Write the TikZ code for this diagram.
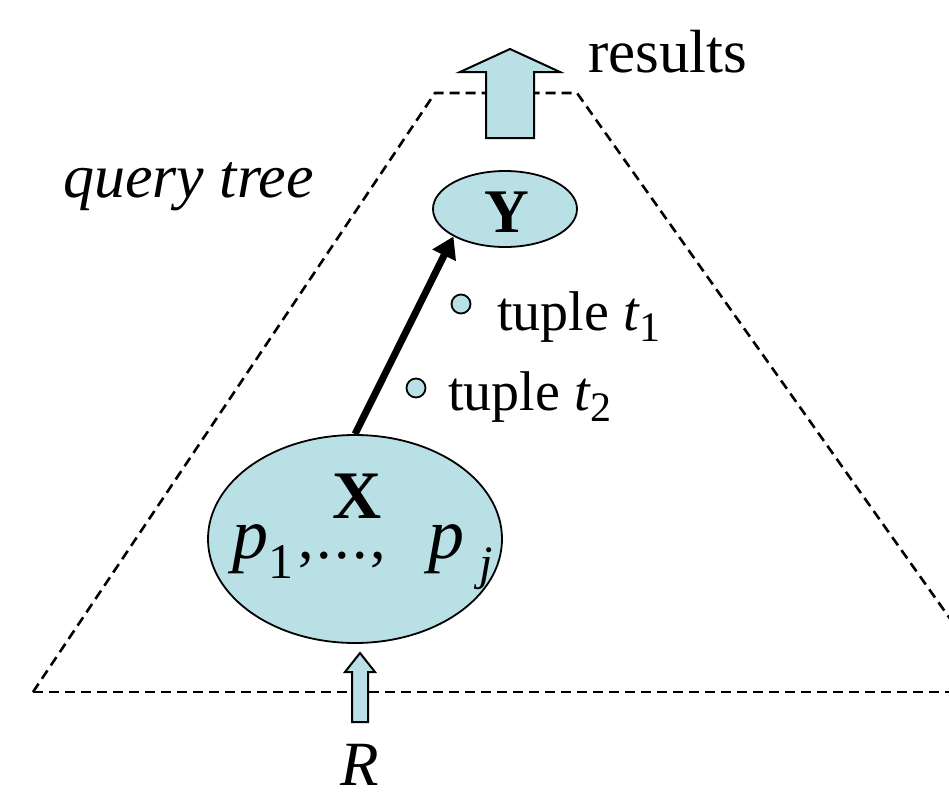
\documentclass[tikz,border=0pt]{standalone}
\usepackage{fontspec}
\setmainfont{Liberation Serif}
\usetikzlibrary{arrows.meta,shapes.geometric}
\definecolor{cyanfill}{RGB}{185,224,228}
\begin{document}
\begin{tikzpicture}[x=1pt,y=-1pt,
  bubble/.style={ellipse,draw=black,line width=1.8pt,fill=cyanfill,inner sep=0pt},
  blockarrow/.style={draw=black,line width=2pt,fill=cyanfill,line join=miter},
  dot/.style={circle,draw=black,line width=1.8pt,fill=cyanfill,inner sep=0pt,minimum size=19pt},
  lbl/.style={inner sep=0pt,anchor=base west},
  trap/.style={draw=black,line width=2.6pt,dash pattern=on 10pt off 6pt}]
\useasboundingbox (0,0) rectangle (949,792);
\begin{scope}
\clip (0,0) rectangle (949,792);
\draw[trap] (33,692) -- (435,93) -- (577,93) -- (1100,830);
\draw[trap] (33,692) -- (960,692);
\end{scope}
% top block arrow
\draw[blockarrow] (486,138) -- (486,72) -- (460,72) -- (510,49) -- (560,72) -- (534,72) -- (534,138) -- cycle;
% bottom block arrow
\draw[blockarrow] (352,722) -- (352,672) -- (345,672) -- (360,653) -- (375,672) -- (368,672) -- (368,722) -- cycle;
% ellipses
\node[bubble,minimum width=144pt,minimum height=76pt] (Y) at (505,209) {};
\node[bubble,minimum width=294pt,minimum height=208pt] (X) at (355,539) {};
\node[inner sep=0pt,anchor=base] (Ylab) at (507,232) {\fontsize{62}{62}\selectfont\bfseries Y};
\node[inner sep=0pt,anchor=base] (Xlab) at (357,518) {\fontsize{68}{68}\selectfont\bfseries X};
\node[lbl] (plab) at (232,558) {\fontsize{72}{72}\selectfont\textit{p}\raisebox{-0.28em}{\fontsize{50}{50}\selectfont 1}\fontsize{62}{62}\selectfont\hspace{0.08em},\hspace{0.04em}.\hspace{0.04em}.\hspace{0.04em}.\hspace{0.04em},\hspace{0.7em}\fontsize{72}{72}\selectfont\textit{p}\hspace{0.2em}\raisebox{-0.3em}{\fontsize{48}{48}\selectfont\textit{j}}};
% connector
\draw[line width=7pt,-{Triangle[length=21pt,width=25pt]}] (X.north) -- (Y.south west);
% dots
\node[dot] (d1) at (461,304) {};
\node[dot] (d2) at (416,388) {};
\node[lbl] (t1) at (497,330) {\fontsize{56}{56}\selectfont tuple \textit{t}\raisebox{-0.2em}{\fontsize{42}{42}\selectfont 1}};
\node[lbl] (t2) at (448,410) {\fontsize{56}{56}\selectfont tuple \textit{t}\raisebox{-0.2em}{\fontsize{42}{42}\selectfont 2}};
% labels
\node[lbl] (res) at (588,72) {\fontsize{61}{61}\selectfont results};
\node[lbl] (qt) at (63,197) {\fontsize{62}{62}\selectfont\itshape query tree};
\node[inner sep=0pt,anchor=base] (R) at (360,785) {\fontsize{63}{63}\selectfont\itshape R};
\end{tikzpicture}
\end{document}
